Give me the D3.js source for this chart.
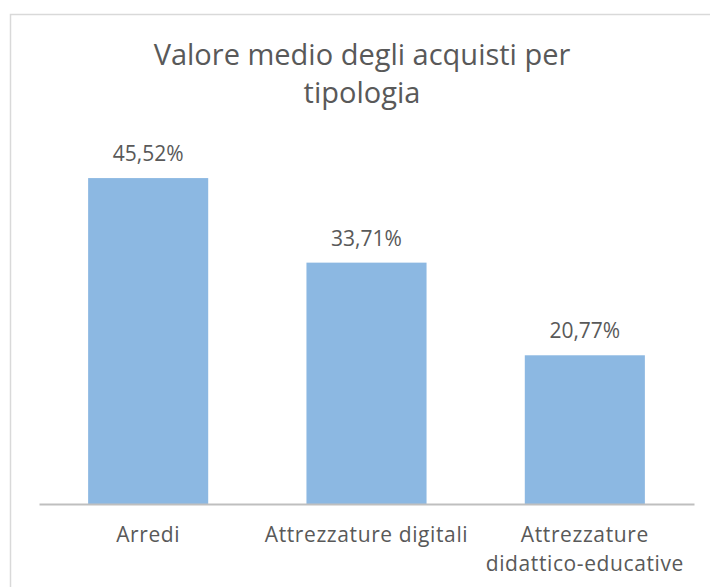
<!DOCTYPE html>
<html>
<head>
<meta charset="utf-8">
<script src="https://cdn.jsdelivr.net/npm/d3@7"></script>
<style>
  body { margin: 0; background: #fff; overflow: hidden; }
  text { font-family: "Open Sans", sans-serif; fill: #595959; }
</style>
</head>
<body>
<div id="chart"></div>
<script>
// Data
const categories = ["Arredi", "Attrezzature digitali", "Attrezzature didattico-educative"];
const values = [45.52, 33.71, 20.77];
const categoryLines = [["Arredi"], ["Attrezzature digitali"], ["Attrezzature", "didattico-educative"]];
const titleLines = ["Valore medio degli acquisti per", "tipologia"];

const W = 710, H = 587;
const svg = d3.select("#chart").append("svg")
    .attr("width", W)
    .attr("height", H)
    .style("display", "block");

// chart border (only top and left edges fall inside the picture)
svg.append("path")
    .attr("d", `M10.5,${H}V14.5H${W}`)
    .attr("fill", "none")
    .attr("stroke", "#d9d9d9")
    .attr("stroke-width", 1.5);

// Title
svg.append("text")
    .attr("x", 362).attr("y", 65)
    .attr("text-anchor", "middle")
    .style("font-size", "29px")
    .selectAll("tspan")
    .data(titleLines)
    .join("tspan")
    .attr("x", 362)
    .attr("dy", (d, i) => i === 0 ? 0 : 38)
    .text(d => d);

// Scales
const x = d3.scaleBand()
    .domain(categories)
    .range([39, 694])
    .paddingInner(0.45)
    .paddingOuter(0.225);

const y = d3.scaleLinear()
    .domain([0, 50])
    .range([504, 146]);

// Bars
svg.selectAll(".bar")
    .data(values)
    .join("rect")
    .attr("class", "bar")
    .attr("x", (d, i) => x(categories[i]))
    .attr("y", d => y(d))
    .attr("width", x.bandwidth())
    .attr("height", d => y(0) - y(d))
    .attr("fill", "#8cb8e2");

// Value labels
svg.selectAll(".val")
    .data(values)
    .join("text")
    .attr("class", "val")
    .attr("x", (d, i) => x(categories[i]) + x.bandwidth() / 2)
    .attr("y", d => y(d) - 17)
    .attr("text-anchor", "middle")
    .style("font-size", "21px")
    .text(d => d.toFixed(2).replace(".", ",") + "%");

// X axis
const xAxis = svg.append("g")
    .attr("transform", `translate(0,${y(0)})`)
    .call(d3.axisBottom(x).tickSize(0).tickFormat(""));
xAxis.select(".domain")
    .attr("stroke", "#bfbfbf")
    .attr("stroke-width", 2);

// Category labels (wrapped)
svg.selectAll(".cat")
    .data(categories)
    .join("text")
    .attr("class", "cat")
    .attr("text-anchor", "middle")
    .attr("y", 542)
    .style("font-size", "21px")
    .style("letter-spacing", "0.6px")
    .each(function (d, i) {
        d3.select(this).selectAll("tspan")
            .data(categoryLines[i])
            .join("tspan")
            .attr("x", x(d) + x.bandwidth() / 2)
            .attr("dy", (t, j) => j === 0 ? 0 : 29)
            .text(t => t);
    });
</script>
</body>
</html>
